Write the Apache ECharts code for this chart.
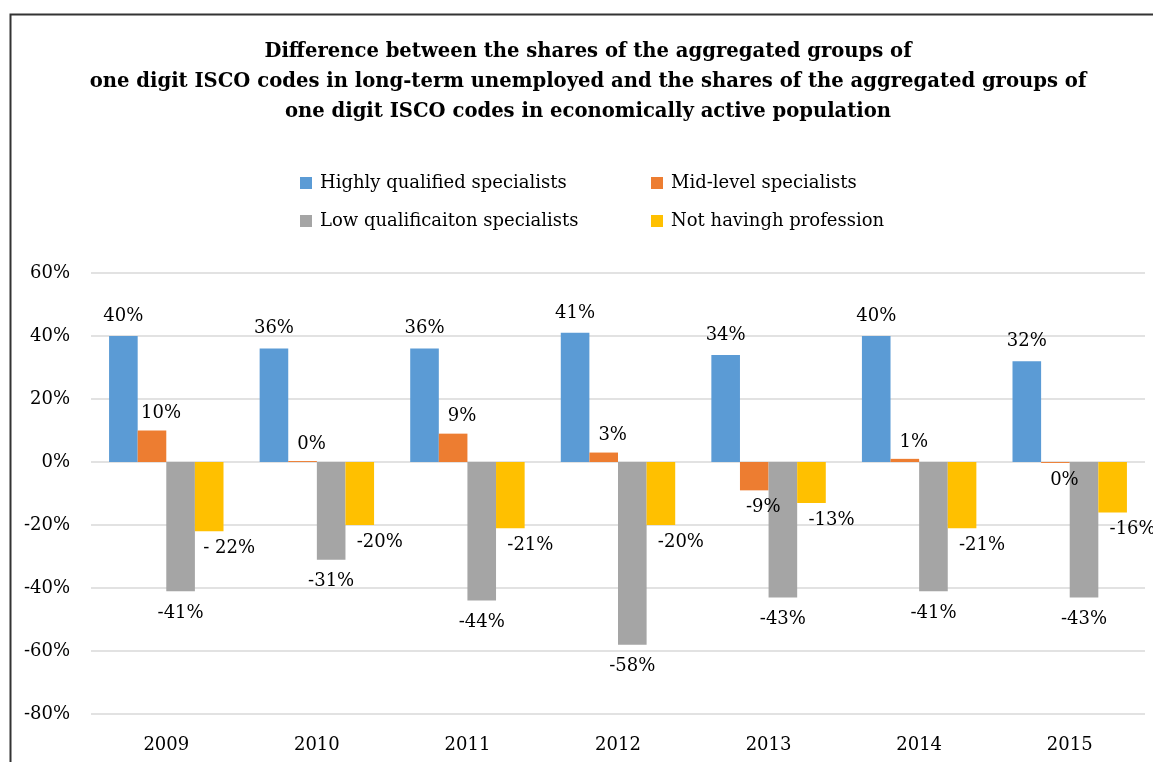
<!DOCTYPE html>
<html>
<head>
<meta charset="utf-8">
<script src="https://cdn.jsdelivr.net/npm/echarts@6/dist/echarts.min.js"></script>
<style>html,body{margin:0;padding:0;background:#fff;}#c{width:1153px;height:762px;}</style>
</head>
<body>
<div id="c"></div>
<script>
const categories = ['2009','2010','2011','2012','2013','2014','2015'];
const highlyQualified = [40, 36, 36, 41, 34, 40, 32];
const midLevel = [10, 0.3, 9, 3, -9, 1, -0.3];
const lowQualification = [-41, -31, -44, -58, -43, -41, -43];
const noProfession = [-22, -20, -21, -20, -13, -21, -16];
const noProfessionLabels = ['- 22%', '-20%', '-21%', '-20%', '-13%', '-21%', '-16%'];
const yTicks = [-80, -60, -40, -20, 0, 20, 40, 60];
const seriesNames = ['Highly qualified specialists', 'Mid-level specialists', 'Low qualificaiton specialists', 'Not havingh profession'];

const FONT = 'DejaVu Serif';
const pct = v => Math.round(v) + '%';

function items(arr, dist, labels) {
  return arr.map((v, i) => ({
    value: v,
    label: {
      position: v >= 0 ? 'top' : 'bottom',
      distance: dist,
      formatter: labels ? labels[i] : pct(v)
    }
  }));
}

const labelBase = { show: true, color: '#000', fontFamily: FONT, fontSize: 18 };

const chart = echarts.init(document.getElementById('c'));
chart.setOption({
  animation: false,
  color: ['#5B9BD5', '#ED7D31', '#A5A5A5', '#FFC000'],
  graphic: [{
    type: 'rect', left: 8, top: 12, z: -1,
    shape: { width: 1200, height: 800 },
    style: { fill: 'none', stroke: '#333', lineWidth: 2 }
  }],
  title: {
    text: 'Difference between the shares of the aggregated groups of\none digit ISCO codes in long-term unemployed and the shares of the aggregated groups of\none digit ISCO codes in economically active population',
    left: 583, top: 32, textAlign: 'center',
    textStyle: { fontFamily: FONT, fontWeight: 'bold', fontSize: 19.6, lineHeight: 30, color: '#000' }
  },
  legend: [
    { data: [seriesNames[0]], left: 295, top: 169 },
    { data: [seriesNames[1]], left: 646, top: 169 },
    { data: [seriesNames[2]], left: 295, top: 207 },
    { data: [seriesNames[3]], left: 646, top: 207 }
  ].map(l => Object.assign(l, {
    icon: 'rect', itemWidth: 12, itemHeight: 12,
    textStyle: { fontFamily: FONT, fontSize: 18, color: '#000', padding: [0, 0, 0, 3] }
  })),
  grid: { left: 91, right: 8, top: 273, bottom: 48 },
  xAxis: {
    type: 'category', data: categories,
    axisLine: { show: false }, axisTick: { show: false },
    axisLabel: { fontFamily: FONT, fontSize: 18, color: '#000', margin: 22 }
  },
  yAxis: {
    type: 'value', min: -80, max: 60, interval: 20,
    axisLine: { show: false }, axisTick: { show: false },
    axisLabel: { fontFamily: FONT, fontSize: 18, color: '#000', margin: 21, formatter: v => v + '%' },
    splitLine: { lineStyle: { color: '#D9D9D9', width: 1.5 } }
  },
  series: [
    { name: seriesNames[0], type: 'bar', barGap: '0%', barCategoryGap: '24%',
      data: items(highlyQualified, 11), label: Object.assign({}, labelBase) },
    { name: seriesNames[1], type: 'bar', barGap: '0%', barCategoryGap: '24%',
      data: items(midLevel, 8), label: Object.assign({}, labelBase, { offset: [9, 0] }) },
    { name: seriesNames[2], type: 'bar', barGap: '0%', barCategoryGap: '24%',
      data: items(lowQualification, 13), label: Object.assign({}, labelBase) },
    { name: seriesNames[3], type: 'bar', barGap: '0%', barCategoryGap: '24%',
      data: items(noProfession, 8, noProfessionLabels), label: Object.assign({}, labelBase, { offset: [20, 0] }) }
  ]
});
</script>
</body>
</html>
